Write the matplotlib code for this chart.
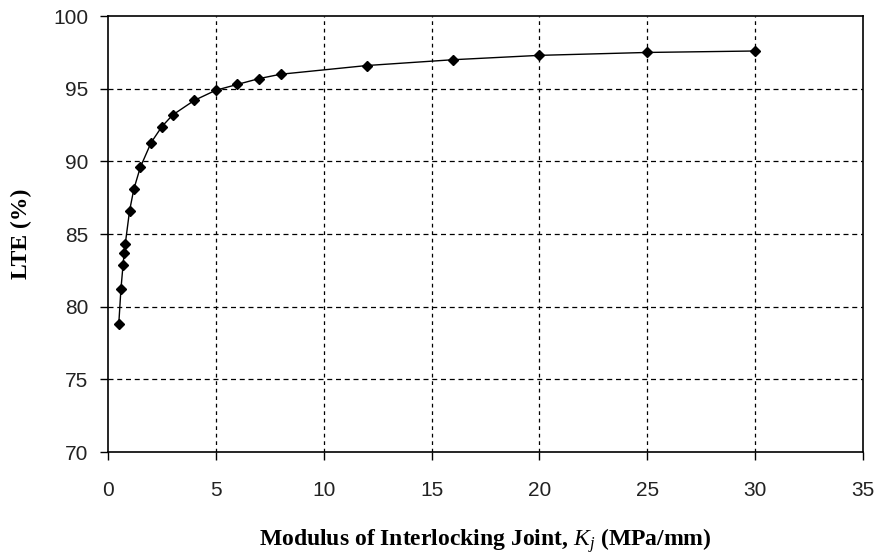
import matplotlib
matplotlib.use('Agg')
import matplotlib.pyplot as plt

# joint stiffness (MPa/mm) and load transfer efficiency (%)
kj_values = [0.5, 0.6, 0.7, 0.75, 0.8, 1.0, 1.2, 1.5, 2.0, 2.5, 3.0, 4.0,
             5.0, 6.0, 7.0, 8.0, 12.0, 16.0, 20.0, 25.0, 30.0]
lte_values = [78.8, 81.2, 82.9, 83.7, 84.3, 86.6, 88.1, 89.6, 91.3, 92.4,
              93.2, 94.2, 94.9, 95.3, 95.7, 96.0, 96.6, 97.0, 97.3, 97.5, 97.6]

x_ticks = [0, 5, 10, 15, 20, 25, 30, 35]
y_ticks = [70, 75, 80, 85, 90, 95, 100]

plt.rcParams['mathtext.fontset'] = 'custom'
plt.rcParams['mathtext.bf'] = 'Liberation Serif:bold'
plt.rcParams['mathtext.it'] = 'Liberation Serif:italic'
plt.rcParams['mathtext.bfit'] = 'Liberation Serif:bold:italic'

fig = plt.figure(figsize=(8.75, 5.56), dpi=100)
ax = fig.add_axes([0.1234, 0.187, 0.863, 0.784])

ax.plot(kj_values, lte_values, color='black', linewidth=1.0,
        marker='D', markersize=5.5, markerfacecolor='black',
        markeredgecolor='black', zorder=3)

ax.set_xlim(0, 35)
ax.set_ylim(70, 100)
ax.set_xticks(x_ticks)
ax.set_yticks(y_ticks)

# dashed grid, vertical lines a bit finer than horizontal ones
for x in x_ticks[1:-1]:
    ax.axvline(x, color='black', linewidth=0.9, linestyle=(0, (3, 3)), zorder=1)
for y in y_ticks[1:-1]:
    ax.axhline(y, color='black', linewidth=0.9, linestyle=(0, (4, 3)), zorder=1)

for spine in ax.spines.values():
    spine.set_color('black')
    spine.set_linewidth(1.2)

ax.tick_params(axis='both', direction='out', length=6, width=1.0,
               labelsize=15, colors='black', labelcolor='#222222')
ax.tick_params(axis='x', pad=15)
ax.tick_params(axis='y', pad=8)
for lbl in ax.get_xticklabels() + ax.get_yticklabels():
    lbl.set_fontfamily('Liberation Sans')

ax.set_xlabel(r'Modulus of Interlocking Joint, $\boldsymbol{K_j}$ (MPa/mm)',
              fontfamily='Liberation Serif', fontweight='bold', fontsize=17)
ax.set_ylabel('LTE (%)', fontfamily='Liberation Serif', fontweight='bold',
              fontsize=17)
ax.xaxis.set_label_coords(0.5, -0.17)
ax.yaxis.set_label_coords(-0.1, 0.5)

fig.savefig('out.png', dpi=100)
